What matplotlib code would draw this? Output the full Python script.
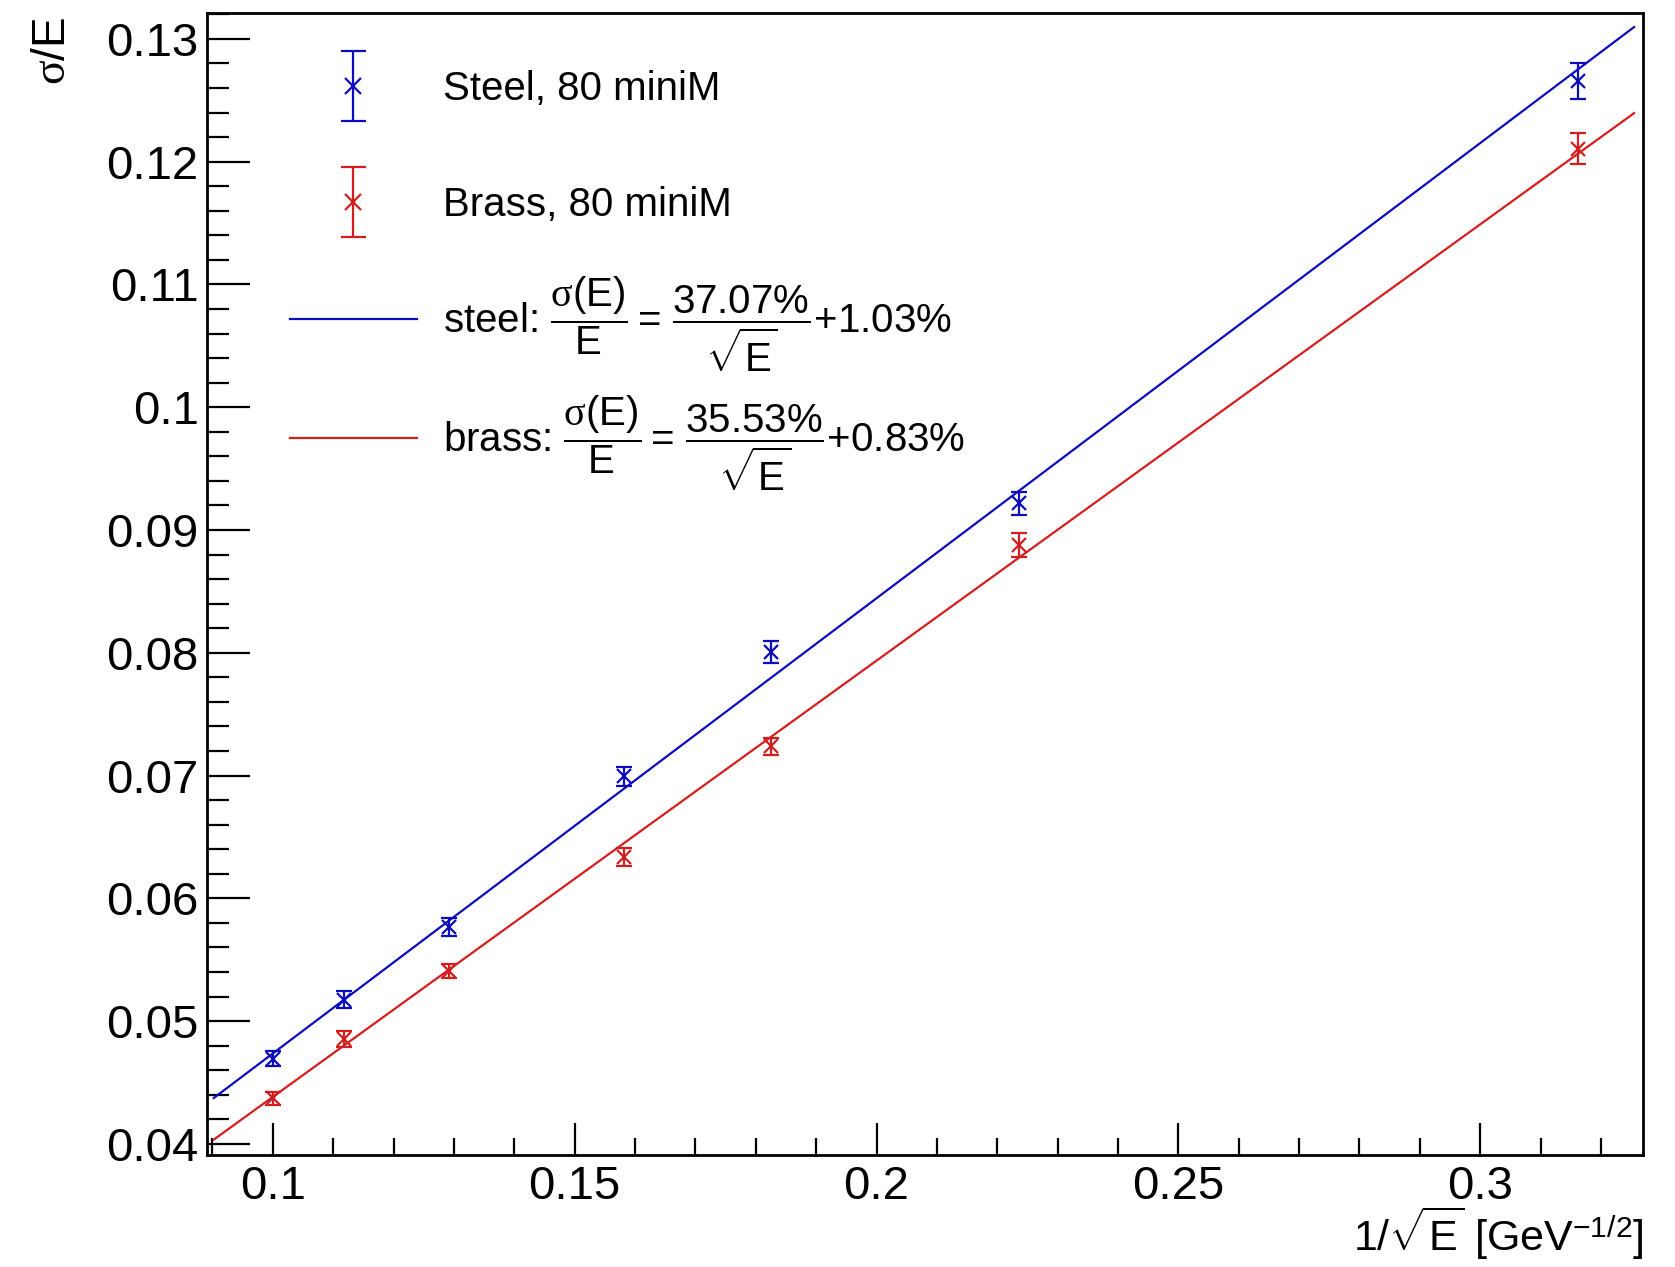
import numpy as np
import matplotlib
matplotlib.use("Agg")
import matplotlib.pyplot as plt
from matplotlib.ticker import MultipleLocator, FuncFormatter
from matplotlib.container import ErrorbarContainer
from matplotlib.legend_handler import HandlerErrorbar

plt.rcParams['font.family'] = ['Liberation Sans', 'DejaVu Sans']
plt.rcParams['mathtext.fontset'] = 'custom'
plt.rcParams['mathtext.rm'] = 'Liberation Sans'
plt.rcParams['mathtext.it'] = 'Liberation Serif'
plt.rcParams['mathtext.bf'] = 'Liberation Sans:bold'

# 1/sqrt(E) for E = 100, 80, 60, 40, 30, 20, 10 GeV
inv_sqrt_e = [0.1, 0.1118, 0.1291, 0.1581, 0.1826, 0.2236, 0.3162]

steel_res = [0.04693, 0.05174, 0.05769, 0.06993, 0.08006, 0.09216, 0.12658]
steel_err = [0.0006, 0.00068, 0.00073, 0.0008, 0.00088, 0.0009, 0.00144]
brass_res = [0.04372, 0.04852, 0.05411, 0.06336, 0.07240, 0.08878, 0.12105]
brass_err = [0.00055, 0.00064, 0.00058, 0.00076, 0.0007, 0.00094, 0.00126]

# fit results: sigma/E = a/sqrt(E) + b
steel_fit = (0.3707, 0.0103)
brass_fit = (0.3553, 0.0083)
fit_range = (0.0902, 0.3255)

blue = '#0c0cbe'
red = '#d41e1e'

fig = plt.figure(figsize=(16.75, 12.67), dpi=100)
ax = fig.add_axes([0.1236, 0.0884, 0.8574, 0.9013])

eb_kw = dict(fmt='x', markersize=10, markeredgewidth=1.6, elinewidth=1.6,
             capsize=5.5, capthick=1.6, linestyle='none')
ax.errorbar(inv_sqrt_e, steel_res, yerr=steel_err, color=blue, **eb_kw)
ax.errorbar(inv_sqrt_e, brass_res, yerr=brass_err, color=red, **eb_kw)

xf = np.linspace(fit_range[0], fit_range[1], 50)
l_steel, = ax.plot(xf, steel_fit[0] * xf + steel_fit[1], color=blue, lw=1.6)
l_brass, = ax.plot(xf, brass_fit[0] * xf + brass_fit[1], color=red, lw=1.6)

# legend proxies with bigger caps (nothing drawn)
leg_kw = dict(fmt='x', markersize=11, markeredgewidth=1.6, elinewidth=1.6,
              capsize=9, capthick=1.6, linestyle='none')
p_steel = ax.errorbar([np.nan], [np.nan], yerr=[0], color=blue, **leg_kw)
p_brass = ax.errorbar([np.nan], [np.nan], yerr=[0], color=red, **leg_kw)

ax.set_xlim(0.0891, 0.327)
ax.set_ylim(0.0391, 0.1321)

ax.xaxis.set_major_locator(MultipleLocator(0.05))
ax.xaxis.set_minor_locator(MultipleLocator(0.01))
ax.yaxis.set_major_locator(MultipleLocator(0.01))
ax.yaxis.set_minor_locator(MultipleLocator(0.002))
fmt = FuncFormatter(lambda v, p: f'{round(v, 6):g}')
ax.xaxis.set_major_formatter(fmt)
ax.yaxis.set_major_formatter(fmt)

ax.tick_params(axis='both', which='both', direction='in', top=False, right=False,
               width=1.6, labelsize=34)
ax.tick_params(axis='y', which='major', length=31, pad=6)
ax.tick_params(axis='y', which='minor', length=16)
ax.tick_params(axis='x', which='major', length=23, pad=7)
ax.tick_params(axis='x', which='minor', length=12)
for s in ax.spines.values():
    s.set_linewidth(2)

ax.set_ylabel(r'$\sigma$/E', fontsize=33, loc='top')
ax.yaxis.set_label_coords(-0.092, 0.997)
ax.set_xlabel(r'1/$\sqrt{\mathrm{E}}$ [GeV$^{-1/2}$]', fontsize=31, loc='right')
ax.xaxis.set_label_coords(1.0, -0.043)

leg1 = ax.legend([p_steel, p_brass], ['Steel, 80 miniM', 'Brass, 80 miniM'],
                 loc='center left', bbox_to_anchor=(0.0578, 0.8828), frameon=False,
                 fontsize=29, handlelength=3.15, handletextpad=0.65,
                 labelspacing=1.94, borderpad=0, borderaxespad=0,
                 handler_map={ErrorbarContainer: HandlerErrorbar(yerr_size=0.87)})
ax.add_artist(leg1)
lab_steel = r'steel: $\dfrac{\sigma(\mathrm{E})}{\mathrm{E}}=\,\dfrac{37.07\%}{\sqrt{\mathrm{E}}}$+1.03%'
lab_brass = r'brass: $\dfrac{\sigma(\mathrm{E})}{\mathrm{E}}=\,\dfrac{35.53\%}{\sqrt{\mathrm{E}}}$+0.83%'
ax.legend([l_steel, l_brass], [lab_steel, lab_brass],
          loc='center left', bbox_to_anchor=(0.0578, 0.6755), frameon=False,
          fontsize=29, handlelength=3.15, handletextpad=0.65,
          labelspacing=0.5, borderpad=0, borderaxespad=0)

fig.savefig('out.png', dpi=100, facecolor='white')
